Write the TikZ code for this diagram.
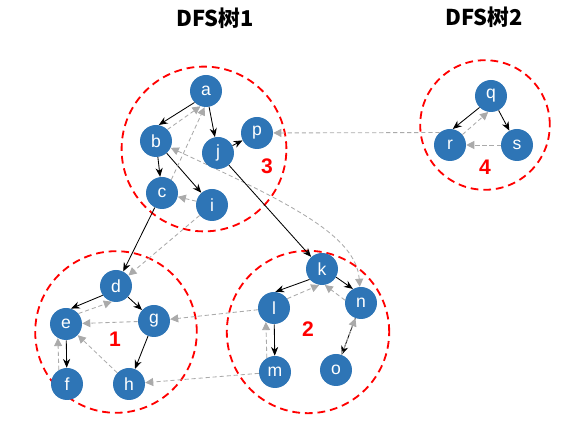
\documentclass[tikz,border=0pt]{standalone}
\usepackage{fontspec}
\setmainfont{Liberation Sans}
\newfontfamily\cjk{Noto Sans CJK SC}
\usetikzlibrary{arrows.meta,backgrounds}
\definecolor{nodeblue}{RGB}{46,117,182}
\definecolor{backgray}{RGB}{170,170,170}

\begin{document}
\begin{tikzpicture}[
  vtx/.style={circle, fill=nodeblue, text=white, minimum size=0.8cm, inner sep=0pt,
    font=\fontsize{12.5}{14}\selectfont},
  tree/.style={-{Stealth[length=2.2mm,width=1.8mm]}, black, line width=0.6pt},
  back/.style={-{Triangle[length=2mm,width=2mm]}, backgray, dashed,
    dash pattern=on 3pt off 2pt, line width=0.6pt},
  scc/.style={red, line width=1.3pt, dash pattern=on 5.5pt off 3.5pt},
  num/.style={red, font=\fontsize{15}{17}\selectfont\bfseries},
  ttl/.style={font=\fontsize{15.5}{18}\selectfont\cjk\bfseries}
]
  \useasboundingbox (0,0) rectangle (14.1,-10.8);

  %% titles
  \node[ttl] (t1) at (5.375,-0.45) {DFS树1};
  \node[ttl] (t2) at (12.1,-0.42) {DFS树2};

  %% strongly connected parts
  \draw[scc] (5.1,-3.725) circle (2.06);
  \draw[scc] (2.9,-8.3) circle (2.02);
  \draw[scc] (7.7,-8.3) circle (2.03);
  \draw[scc] (12.125,-3.125) circle (1.62);
  \node[num] (s3) at (6.675,-4.15) {3};
  \node[num] (s1) at (2.875,-8.475) {1};
  \node[num] (s2) at (7.7,-8.225) {2};
  \node[num] (s4) at (12.125,-4.175) {4};

  %% vertices
  \node[vtx] (a) at (5.15,-2.275) {a};
  \node[vtx] (b) at (3.9,-3.525) {b};
  \node[vtx] (j) at (5.45,-3.825) {j};
  \node[vtx] (p) at (6.425,-3.325) {p};
  \node[vtx] (c) at (4.05,-4.825) {c};
  \node[vtx] (i) at (5.3,-5.125) {i};
  \node[vtx] (d) at (2.9,-7.15) {d};
  \node[vtx] (e) at (1.65,-8.1) {e};
  \node[vtx] (g) at (3.85,-8.025) {g};
  \node[vtx] (f) at (1.675,-9.6) {f};
  \node[vtx] (h) at (3.225,-9.6) {h};
  \node[vtx] (k) at (8.05,-6.725) {k};
  \node[vtx] (l) at (6.85,-7.7) {l};
  \node[vtx] (n) at (9.025,-7.575) {n};
  \node[vtx] (m) at (6.875,-9.3) {m};
  \node[vtx] (o) at (8.4,-9.25) {o};
  \node[vtx] (q) at (12.275,-2.4) {q};
  \node[vtx] (r) at (11.25,-3.625) {r};
  \node[vtx] (s) at (12.925,-3.625) {s};

  %% tree edges
  \draw[tree] (a.225) -- (b.80);
  \draw[tree] (a) -- (j);
  \draw[tree] (b) -- (c);
  \draw[tree] (b) -- (i);
  \draw[tree] (j) -- (p);
  \draw[tree] (c) -- (d);
  \draw[tree] (j) -- (k);
  \draw[tree] (d.215) -- (e.72);
  \draw[tree] (d) -- (g);
  \draw[tree] (e) -- (f);
  \draw[tree] (g) -- (h);
  \draw[tree] (k.220) -- (l.85);
  \draw[tree] (k.330) -- (n.120);
  \draw[tree] (l) -- (m);
  \draw[tree] (n) -- (o);
  \draw[tree] (q.225) -- (r.80);
  \draw[tree] (q) -- (s);

  %% reversed edges
  \draw[back] (b.45) -- (a.250);
  \draw[back] (c.55) -- (a.265);
  \draw[back] (i) -- (c);
  \draw[back] (r.130) -- (p);
  \draw[back] (s) -- (r);
  \draw[back] (r.40) -- (q.260);
  \draw[back] (e.40) -- (d.255);
  \draw[back] (g) -- (e);
  \draw[back] (f.120) -- (e.240);
  \draw[back] (h) -- (e);
  \draw[back] (i) -- (d);
  \draw[back] (l) -- (g);
  \draw[back] (m) -- (h);
  \draw[back] (l.35) -- (k.260);
  \draw[back] (n.170) -- (k.280);
  \draw[back] (m.120) -- (l.240);
  \draw[back] (o.70) -- (n.250);
  \begin{pgfonlayer}{background}
    \draw[back, {Triangle[length=2mm,width=2mm]}-{Triangle[length=2mm,width=2mm]}]
      (b) .. controls (7.3,-5.1) and (8.9,-5.9) .. (n);
  \end{pgfonlayer}
\end{tikzpicture}
\end{document}
